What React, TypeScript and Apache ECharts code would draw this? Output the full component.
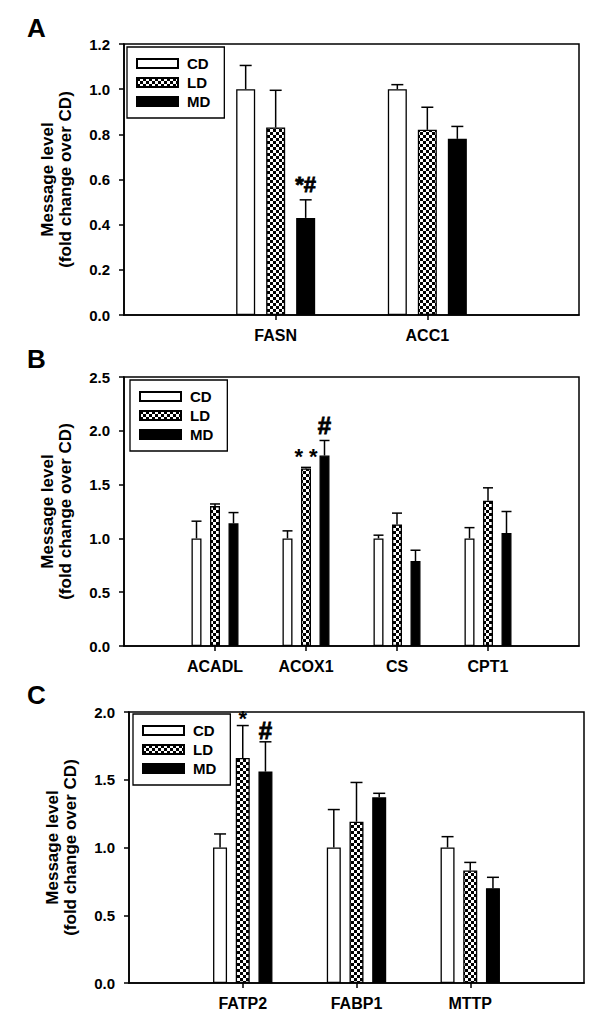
import React, { useEffect, useRef } from 'react';
import * as echarts from 'echarts';

const groups = ['CD', 'LD', 'MD'];

// Panel A
const catsA = ['FASN', 'ACC1'];
const cdA = [1.0, 1.0];
const ldA = [0.83, 0.82];
const mdA = [0.43, 0.78];
const cdAErr = [1.105, 1.02];
const ldAErr = [0.995, 0.92];
const mdAErr = [0.51, 0.835];
const yMaxA = 1.2;
const yStepA = 0.2;
const annotA = [{ cat: 'FASN', bar: 2, y: 0.58, text: '*#' }];

// Panel B
const catsB = ['ACADL', 'ACOX1', 'CS', 'CPT1'];
const cdB = [1.0, 1.0, 1.0, 1.0];
const ldB = [1.3, 1.65, 1.13, 1.35];
const mdB = [1.14, 1.77, 0.79, 1.05];
const cdBErr = [1.16, 1.07, 1.03, 1.1];
const ldBErr = [1.32, 1.66, 1.235, 1.47];
const mdBErr = [1.24, 1.91, 0.89, 1.25];
const yMaxB = 2.5;
const yStepB = 0.5;
const annotB = [
  { cat: 'ACOX1', bar: 1, y: 1.76, text: '* *' },
  { cat: 'ACOX1', bar: 2, y: 2.05, text: '#' },
];

// Panel C
const catsC = ['FATP2', 'FABP1', 'MTTP'];
const cdC = [1.0, 1.0, 1.0];
const ldC = [1.66, 1.19, 0.83];
const mdC = [1.56, 1.37, 0.7];
const cdCErr = [1.1, 1.28, 1.08];
const ldCErr = [1.9, 1.48, 0.89];
const mdCErr = [1.78, 1.4, 0.78];
const yMaxC = 2.0;
const yStepC = 0.5;
const annotC = [
  { cat: 'FATP2', bar: 1, y: 1.95, text: '*' },
  { cat: 'FATP2', bar: 2, y: 1.86, text: '#' },
];

const FONT = '"Liberation Sans", Arial, sans-serif';
const AXIS_NAME = 'Message level\n(fold change over CD)';

function makeChecker() {
  const c = document.createElement('canvas');
  c.width = 6;
  c.height = 6;
  const g = c.getContext('2d')!;
  g.fillStyle = '#fff';
  g.fillRect(0, 0, 6, 6);
  g.fillStyle = '#000';
  g.fillRect(0, 0, 3, 3);
  g.fillRect(3, 3, 3, 3);
  return { image: c, repeat: 'repeat', imageWidth: 6, imageHeight: 6 };
}

type Panel = {
  cats: string[];
  vals: number[][];
  errs: number[][];
  yMax: number;
  yStep: number;
  annots: { cat: string; bar: number; y: number; text: string }[];
  grid: { left: number; top: number; width: number; height: number };
  barWidth: number;
  gap: number;
  cap: number;
  legend: { left: number; top: number };
  letter: { text: string; left: number; top: number };
};

const panels: Panel[] = [
  {
    cats: catsA,
    vals: [cdA, ldA, mdA],
    errs: [cdAErr, ldAErr, mdAErr],
    yMax: yMaxA,
    yStep: yStepA,
    annots: annotA,
    grid: { left: 124, top: 44, width: 455, height: 271 },
    barWidth: 19,
    gap: 11,
    cap: 6,
    legend: { left: 127, top: 47 },
    letter: { text: 'A', left: 27, top: 15 },
  },
  {
    cats: catsB,
    vals: [cdB, ldB, mdB],
    errs: [cdBErr, ldBErr, mdBErr],
    yMax: yMaxB,
    yStep: yStepB,
    annots: annotB,
    grid: { left: 124, top: 377, width: 455, height: 269 },
    barWidth: 10,
    gap: 8.5,
    cap: 5,
    legend: { left: 130, top: 380 },
    letter: { text: 'B', left: 27, top: 346 },
  },
  {
    cats: catsC,
    vals: [cdC, ldC, mdC],
    errs: [cdCErr, ldCErr, mdCErr],
    yMax: yMaxC,
    yStep: yStepC,
    annots: annotC,
    grid: { left: 129, top: 712, width: 455, height: 271 },
    barWidth: 14,
    gap: 8.7,
    cap: 6,
    legend: { left: 133, top: 714 },
    letter: { text: 'C', left: 27, top: 682 },
  },
];

function buildOption() {
  const checker = makeChecker();
  const fills: any[] = ['#ffffff', checker, '#000000'];
  const grid: any[] = [];
  const xAxis: any[] = [];
  const yAxis: any[] = [];
  const legend: any[] = [];
  const series: any[] = [];
  const graphic: any[] = [];

  panels.forEach((p, pi) => {
    grid.push({
      ...p.grid,
      show: true,
      borderColor: '#000',
      borderWidth: 1.5,
      backgroundColor: 'transparent',
      containLabel: false,
    });
    const axisCats = [' ', ...p.cats, '  '];
    xAxis.push({
      type: 'category',
      gridIndex: pi,
      data: axisCats,
      boundaryGap: false,
      axisLine: { show: true, lineStyle: { color: '#000', width: 1.6 } },
      axisTick: {
        show: true,
        inside: false,
        length: 5,
        interval: (idx: number) => idx > 0 && idx < axisCats.length - 1,
        lineStyle: { color: '#000', width: 1.5 },
      },
      axisLabel: {
        interval: 0,
        color: '#000',
        fontWeight: 'bold',
        fontSize: 16,
        fontFamily: FONT,
        margin: 12,
      },
      splitLine: { show: false },
    });
    yAxis.push({
      type: 'value',
      gridIndex: pi,
      min: 0,
      max: p.yMax,
      interval: p.yStep,
      axisLine: { show: true, lineStyle: { color: '#000', width: 1.6 } },
      axisTick: { show: true, inside: false, length: 5, lineStyle: { color: '#000', width: 1.5 } },
      axisLabel: {
        color: '#000',
        fontWeight: 'bold',
        fontSize: 15,
        fontFamily: FONT,
        margin: 14,
        formatter: (v: number) => v.toFixed(1),
      },
      splitLine: { show: false },
      name: AXIS_NAME,
      nameLocation: 'middle',
      nameGap: 50,
      nameTextStyle: {
        color: '#000',
        fontWeight: 'bold',
        fontSize: 17,
        lineHeight: 18,
        fontFamily: FONT,
        align: 'center',
      },
    });
    legend.push({
      data: groups,
      left: p.legend.left,
      top: p.legend.top,
      orient: 'vertical',
      icon: 'rect',
      itemWidth: 41,
      itemHeight: 9,
      itemGap: 2,
      padding: [8, 14, 8, 9],
      borderColor: '#000',
      borderWidth: 1.3,
      backgroundColor: '#fff',
      selectedMode: false,
      textStyle: {
        fontSize: 15,
        fontWeight: 'bold',
        color: '#000',
        fontFamily: FONT,
        lineHeight: 17,
        padding: [0, 0, 0, 4],
      },
    });

    const barGap = `${(p.gap / p.barWidth) * 100}%`;
    groups.forEach((g, k) => {
      series.push({
        type: 'bar',
        name: g,
        xAxisIndex: pi,
        yAxisIndex: pi,
        barWidth: p.barWidth,
        barGap,
        data: p.cats.map((c, i) => [c, p.vals[k][i]]),
        itemStyle: { color: fills[k], borderColor: '#000', borderWidth: 1.3 },
        z: 2,
      });
    });

    const spacing = p.barWidth + p.gap;
    const errData: any[] = [];
    groups.forEach((g, k) => {
      p.cats.forEach((c, i) => {
        errData.push([c, p.vals[k][i], p.errs[k][i], k - 1]);
      });
    });
    series.push({
      type: 'custom',
      name: 'err' + pi,
      xAxisIndex: pi,
      yAxisIndex: pi,
      z: 5,
      silent: true,
      encode: { x: 0, y: [1, 2] },
      data: errData,
      renderItem: (params: any, api: any) => {
        const x = api.value(0);
        const v = api.value(1);
        const e = api.value(2);
        const off = api.value(3);
        const p0 = api.coord([x, v]);
        const p1 = api.coord([x, e]);
        const cx = p0[0] + off * spacing;
        const st = { stroke: '#000', lineWidth: 1.5 };
        return {
          type: 'group',
          children: [
            { type: 'line', shape: { x1: cx, y1: p0[1], x2: cx, y2: p1[1] }, style: st },
            { type: 'line', shape: { x1: cx - p.cap, y1: p1[1], x2: cx + p.cap, y2: p1[1] }, style: st },
          ],
        };
      },
    });

    series.push({
      type: 'custom',
      name: 'annot' + pi,
      xAxisIndex: pi,
      yAxisIndex: pi,
      z: 6,
      silent: true,
      encode: { x: 0, y: 1 },
      data: p.annots.map((a) => [a.cat, a.y, a.bar - 1]),
      renderItem: (params: any, api: any) => {
        const a = p.annots[params.dataIndex];
        const pt = api.coord([api.value(0), api.value(1)]);
        const isHash = a.text.indexOf('#') >= 0;
        return {
          type: 'text',
          x: pt[0] + api.value(2) * spacing,
          y: pt[1],
          style: {
            text: a.text,
            fill: '#000',
            stroke: isHash ? '#000' : undefined,
            lineWidth: isHash ? 0.8 : 0,
            fontSize: a.text === '#' ? 24 : 22,
            fontWeight: 'bold',
            fontFamily: FONT,
            align: 'center',
            verticalAlign: 'middle',
          },
        };
      },
    });

    graphic.push({
      type: 'text',
      left: p.letter.left,
      top: p.letter.top,
      style: {
        text: p.letter.text,
        fill: '#000',
        fontSize: 26,
        fontWeight: 'bold',
        fontFamily: FONT,
      },
    });
  });

  return {
    animation: false,
    backgroundColor: '#ffffff',
    grid,
    xAxis,
    yAxis,
    legend,
    series,
    graphic,
  };
}

export default function App() {
  const ref = useRef<HTMLDivElement>(null);
  useEffect(() => {
    if (!ref.current) return;
    const chart = echarts.init(ref.current, undefined, { renderer: 'svg' });
    chart.setOption(buildOption() as any);
    return () => chart.dispose();
  }, []);
  return (
    <div
      ref={ref}
      style={{ position: 'fixed', left: 0, top: 0, width: 600, height: 1020, background: '#fff' }}
    />
  );
}
